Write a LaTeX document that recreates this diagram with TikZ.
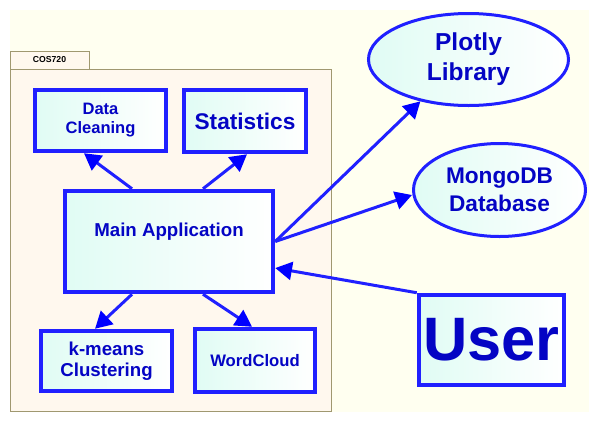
\documentclass[tikz,border=0pt]{standalone}
\usepackage{fontspec}
\setmainfont{Liberation Sans}
\usetikzlibrary{arrows.meta,shapes.geometric}
\definecolor{bg}{HTML}{FFFFF0}
\definecolor{pkgfill}{HTML}{FFF8EE}
\definecolor{pkgline}{HTML}{A09870}
\definecolor{bline}{HTML}{2020FF}
\definecolor{ahead}{HTML}{0000FF}
\definecolor{btext}{HTML}{0404C4}
\definecolor{mint}{HTML}{E0FCF4}
\begin{document}
\begin{tikzpicture}[x=0.75pt,y=-0.75pt,
  box/.style={draw=bline, line width=3pt, shading=axis, left color=mint, right color=white,
    inner sep=0pt, text=btext, font=\bfseries, align=center},
  oval/.style={ellipse, draw=bline, line width=2.25pt, shading=axis, left color=mint, right color=white,
    inner sep=0pt, text=btext, font=\bfseries, align=center},
  arr/.style={draw=bline, line width=2.25pt, -{Triangle[length=12.5pt,width=13.5pt,color=ahead]}},
  pkg/.style={draw=pkgline, fill=pkgfill, line width=0.75pt}]
\useasboundingbox (0,0) rectangle (599,422);
\fill[white] (0,0) rectangle (599,422);
\fill[bg] (10,10) rectangle (589,412);
% package
\draw[pkg] (10,51) rectangle (89,69);
\draw[pkg] (10,69) rectangle (331,411);
\node[font=\bfseries\fontsize{6.5}{8}\selectfont, inner sep=0pt] (pkglabel) at (49.5,60) {COS720};
% boxes
\node[box, minimum width=98.6pt, minimum height=46.1pt, font=\bfseries\fontsize{12.4}{14.3}\selectfont]
  (dc) at (100.5,120.5) {Data\\Cleaning};
\node[box, minimum width=91.9pt, minimum height=46.9pt, font=\bfseries\fontsize{17}{20}\selectfont]
  (st) at (245,121) {Statistics};
\node[box, minimum width=156.4pt, minimum height=76.1pt,
  label={[text=btext, font=\bfseries\fontsize{14}{16}\selectfont, yshift=7.1pt]center:Main Application}]
  (main) at (169,241.5) {};
\node[box, minimum width=98.6pt, minimum height=45.4pt, font=\bfseries\fontsize{14}{15.8}\selectfont]
  (km) at (106.5,361) {k-means\\Clustering};
\node[box, minimum width=90.4pt, minimum height=47.6pt, font=\bfseries\fontsize{12.5}{15}\selectfont]
  (wc) at (255,360.5) {WordCloud};
\node[box, minimum width=109.1pt, minimum height=67.9pt, font=\bfseries\fontsize{46}{50}\selectfont]
  (user) at (491.5,340) {User};
% ellipses
\node[oval, minimum width=150pt, minimum height=69pt, font=\bfseries\fontsize{18.4}{22.5}\selectfont]
  (plotly) at (468.5,59.5) {Plotly\\Library};
\node[oval, minimum width=129pt, minimum height=69.75pt, font=\bfseries\fontsize{17}{21}\selectfont]
  (mongo) at (499.5,190) {MongoDB\\Database};
% arrows
\draw[arr] ([xshift=-27.75pt]main.north) -- ([xshift=-12.4pt]dc.south);
\draw[arr] ([xshift=25.5pt]main.north) -- ([xshift=1.5pt]st.south);
\draw[arr] ([xshift=-27.75pt]main.south) -- ([xshift=-8.6pt]km.north);
\draw[arr] ([xshift=25.5pt]main.south) -- ([xshift=-2.25pt]wc.north);
\draw[arr] (main.east) -- (plotly.221);
\draw[arr] (main.east) -- ([yshift=-3.75pt]mongo.west);
\draw[arr] (user.north west) -- ([yshift=-19.9pt]main.east);
\end{tikzpicture}
\end{document}
